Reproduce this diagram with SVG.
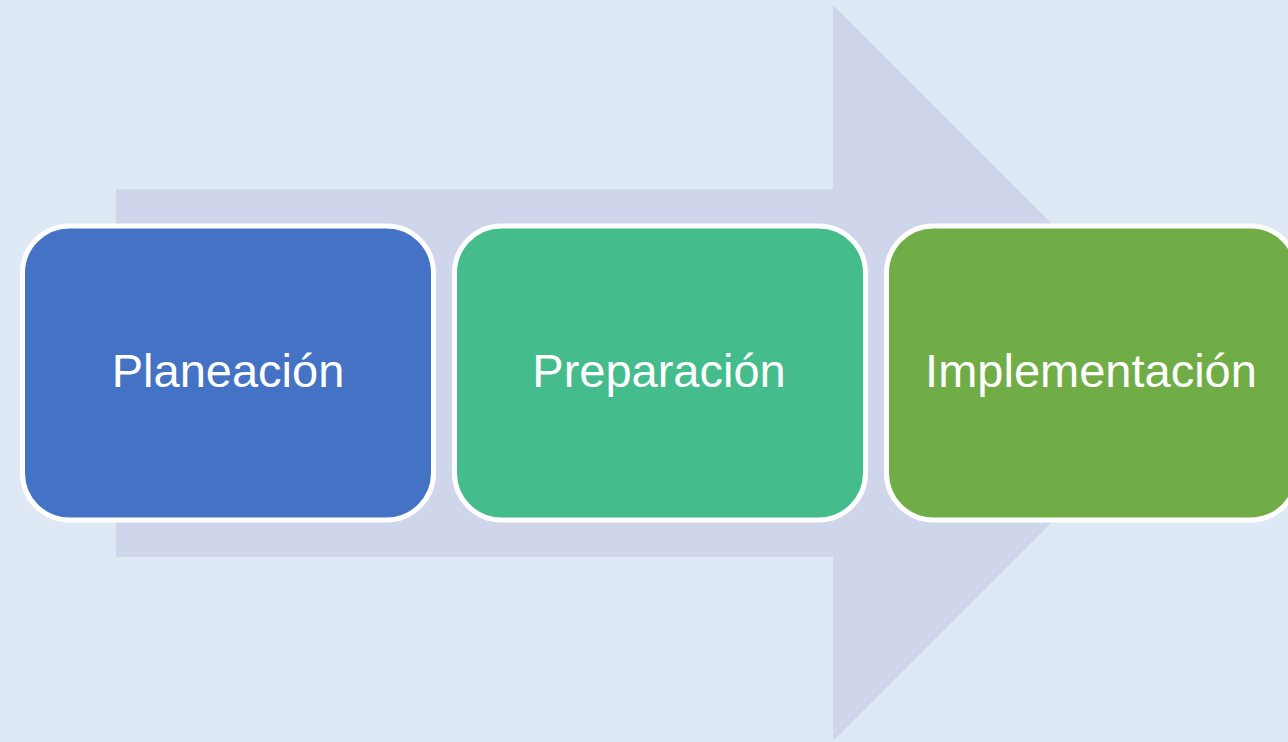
<svg xmlns="http://www.w3.org/2000/svg" width="1288" height="742" viewBox="0 0 1288 742">
<style>
.box{stroke:#FFFFFF;stroke-width:5}
.lbl{font-family:"Liberation Sans",Arial,sans-serif;font-size:47px;fill:#FFFFFF;text-anchor:middle}
</style>
<rect x="0" y="0" width="1288" height="742" fill="#DEE9F5"/>
<g id="arrow">
<polygon points="116,189 833,189 833,5 1201,373 833,741 833,557 116,557" fill="#CFD5EA"/>
</g>
<g id="connectors"></g>
<g id="node-planeacion">
<rect class="box" x="22.5" y="226" width="411" height="294" rx="47" ry="47" fill="#4472C4"/>
<text class="lbl" x="228" y="387">Planeación</text>
</g>
<g id="node-preparacion">
<rect class="box" x="454.5" y="226" width="411" height="294" rx="47" ry="47" fill="#45BC8C"/>
<text class="lbl" x="659" y="387">Preparación</text>
</g>
<g id="node-implementacion">
<rect class="box" x="886.5" y="226" width="411" height="294" rx="47" ry="47" fill="#70AD47"/>
<text class="lbl" x="1091" y="387">Implementación</text>
</g>
</svg>
